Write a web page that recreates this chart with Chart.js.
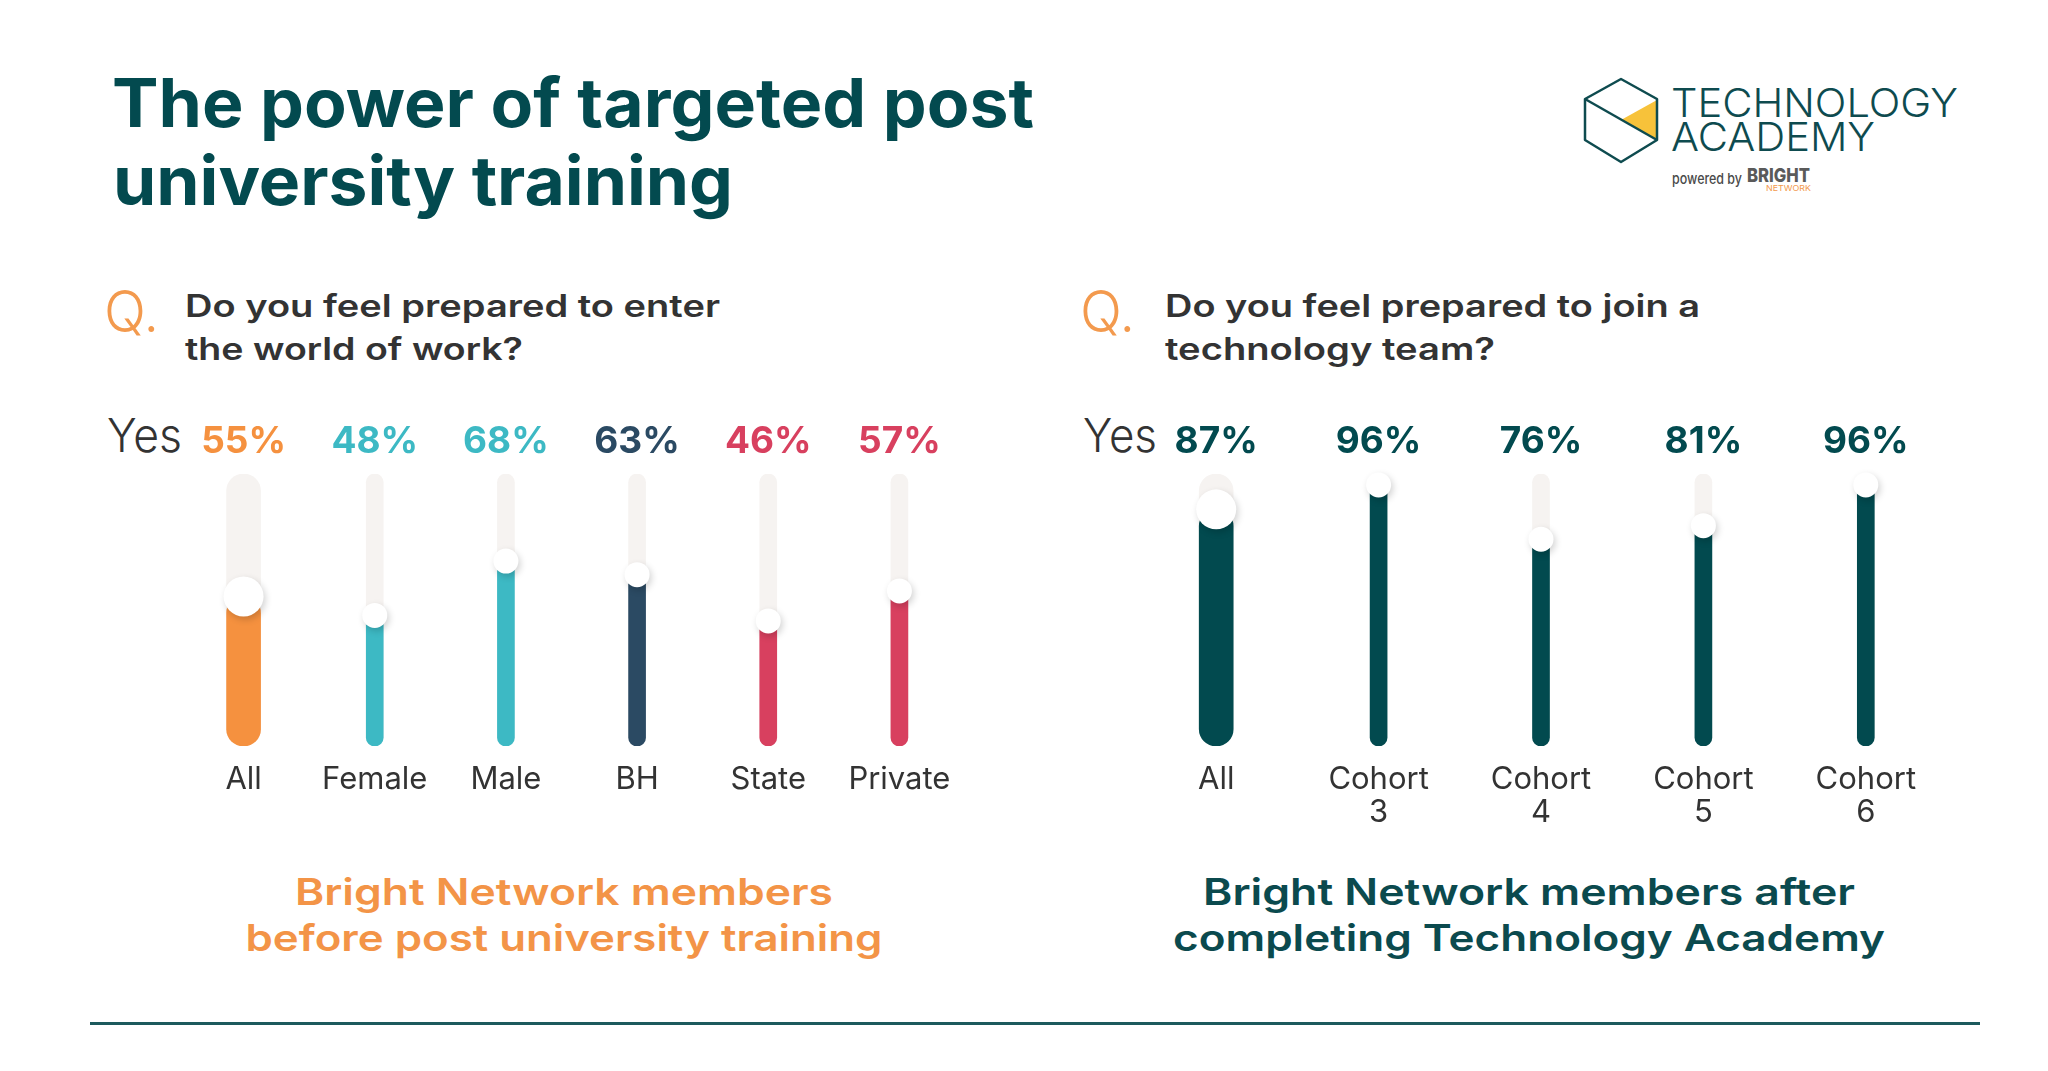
<!DOCTYPE html>
<html>
<head>
<meta charset="utf-8">
<title>The power of targeted post university training</title>
<script src="https://cdn.jsdelivr.net/npm/chart.js@4.4.1/dist/chart.umd.min.js"></script>
<style>
  html, body { margin: 0; padding: 0; background: #fff; }
  body { width: 2048px; height: 1071px; position: relative; overflow: hidden; font-family: Inter, "Noto Sans", sans-serif; }
  #art { position: absolute; left: 0; top: 0; }
  #art text { font-family: Inter, "Noto Sans", sans-serif; }
  .chart-box { position: absolute; }
</style>
</head>
<body>
<svg id="art" width="2048" height="1071" xmlns="http://www.w3.org/2000/svg">
  <!-- title -->
  <text x="112" y="127" font-size="67" font-weight="700" fill="#034A4F" textLength="922" lengthAdjust="spacingAndGlyphs">The power of targeted post</text>
  <text x="113" y="205" font-size="67" font-weight="700" fill="#034A4F" textLength="620" lengthAdjust="spacingAndGlyphs">university training</text>

  <!-- logo -->
  <polygon points="1621,120 1657,100 1657,140" fill="#F7C23A"/>
  <polygon points="1621,79 1657,99 1657,140 1621,162 1585,140 1585,99" fill="none" stroke="#0E4B4F" stroke-width="2.5" stroke-linejoin="round"/>
  <line x1="1585" y1="99" x2="1657" y2="140" stroke="#0E4B4F" stroke-width="2.5"/>
  <text x="1671" y="117" font-size="40" font-weight="300" fill="#0E4B4F" textLength="287" lengthAdjust="spacingAndGlyphs">TECHNOLOGY</text>
  <text x="1671" y="151" font-size="40" font-weight="300" fill="#0E4B4F" textLength="204" lengthAdjust="spacingAndGlyphs">ACADEMY</text>
  <text x="1672" y="184" font-size="15" font-weight="500" fill="#4A4A4A" textLength="70" lengthAdjust="spacingAndGlyphs">powered by</text>
  <text x="1747" y="182" font-size="19" font-weight="800" fill="#5A5A5A" textLength="63" lengthAdjust="spacingAndGlyphs">BRIGHT</text>
  <text x="1766" y="191" font-size="8" font-weight="400" fill="#F39A4E" textLength="45" lengthAdjust="spacingAndGlyphs">NETWORK</text>

  <!-- questions -->
  <text x="104" y="332" font-size="58" font-weight="300" fill="#F39A4E" textLength="55" lengthAdjust="spacingAndGlyphs">Q.</text>
  <text x="185" y="317" font-size="31" font-weight="600" fill="#333333" textLength="535" lengthAdjust="spacingAndGlyphs">Do you feel prepared to enter</text>
  <text x="185" y="360" font-size="31" font-weight="600" fill="#333333" textLength="338" lengthAdjust="spacingAndGlyphs">the world of work?</text>
  <text x="1080" y="332" font-size="58" font-weight="300" fill="#F39A4E" textLength="55" lengthAdjust="spacingAndGlyphs">Q.</text>
  <text x="1165" y="317" font-size="31" font-weight="600" fill="#333333" textLength="535" lengthAdjust="spacingAndGlyphs">Do you feel prepared to join a</text>
  <text x="1165" y="360" font-size="31" font-weight="600" fill="#333333" textLength="330" lengthAdjust="spacingAndGlyphs">technology team?</text>

  <!-- "Yes" row headers -->
  <text x="107" y="452" font-size="47" font-weight="300" fill="#333333" textLength="75" lengthAdjust="spacingAndGlyphs">Yes</text>
  <text x="1083" y="452" font-size="47" font-weight="300" fill="#333333" textLength="74" lengthAdjust="spacingAndGlyphs">Yes</text>

  <!-- group captions -->
  <text x="564" y="905" text-anchor="middle" font-size="37" font-weight="600" fill="#F39447" textLength="538" lengthAdjust="spacingAndGlyphs">Bright Network members</text>
  <text x="564" y="951" text-anchor="middle" font-size="37" font-weight="600" fill="#F39447" textLength="637" lengthAdjust="spacingAndGlyphs">before post university training</text>
  <text x="1529" y="905" text-anchor="middle" font-size="37" font-weight="600" fill="#0B4A4E" textLength="652" lengthAdjust="spacingAndGlyphs">Bright Network members after</text>
  <text x="1529" y="951" text-anchor="middle" font-size="37" font-weight="600" fill="#0B4A4E" textLength="712" lengthAdjust="spacingAndGlyphs">completing Technology Academy</text>

  <rect x="90" y="1022" width="1890" height="3" fill="#1D5A5D"/>
</svg>

<div class="chart-box" style="left:150px;top:380px;width:850px;height:480px"><canvas id="beforeChart"></canvas></div>
<div class="chart-box" style="left:1100px;top:380px;width:880px;height:480px"><canvas id="afterChart"></canvas></div>

<script>
// "Do you feel prepared to enter the world of work?" - before training
const beforeCategories = ['All', 'Female', 'Male', 'BH', 'State', 'Private'];
const beforeValues = [55, 48, 68, 63, 46, 57];
const beforeColors = ['#F5913F', '#3DB9C4', '#3DB9C4', '#2B4A63', '#D8405F', '#D8405F'];

// "Do you feel prepared to join a technology team?" - after Technology Academy
const afterCategories = [['All'], ['Cohort', '3'], ['Cohort', '4'], ['Cohort', '5'], ['Cohort', '6']];
const afterValues = [87, 96, 76, 81, 96];
const afterColors = ['#024A4F', '#024A4F', '#024A4F', '#024A4F', '#024A4F'];

const scaleMax = 100;
const trackColor = '#F6F3F1';
const fontFamily = 'Inter, "Noto Sans", sans-serif';

// soft drop shadow under the white slider knobs
const thumbShadow = {
  id: 'thumbShadow',
  beforeDatasetDraw(chart, args) {
    if (chart.data.datasets[args.index].type === 'line') {
      const ctx = chart.ctx;
      ctx.save();
      ctx.shadowColor = 'rgba(0,0,0,0.18)';
      ctx.shadowBlur = 7;
      ctx.shadowOffsetX = 2;
      ctx.shadowOffsetY = 3;
    }
  },
  afterDatasetDraw(chart, args) {
    if (chart.data.datasets[args.index].type === 'line') {
      chart.ctx.restore();
    }
  }
};

function sliderChart(canvasId, categories, values, colors, padding) {
  const bigBar = { barThickness: 34, borderRadius: 17, borderSkipped: false, grouped: false };
  const smallBar = { barThickness: 17, borderRadius: 8.5, borderSkipped: false, grouped: false };

  return new Chart(document.getElementById(canvasId), {
    type: 'bar',
    data: {
      labels: categories,
      datasets: [
        {
          type: 'line',
          data: values,
          showLine: false,
          pointRadius: (c) => (c.dataIndex === 0 ? 20 : 12.5),
          pointHoverRadius: (c) => (c.dataIndex === 0 ? 20 : 12.5),
          pointBackgroundColor: '#ffffff',
          pointBorderWidth: 0,
          clip: false,
          order: 0
        },
        Object.assign({
          data: values.map((v, i) => (i === 0 ? v : null)),
          backgroundColor: colors[0],
          order: 1
        }, bigBar),
        Object.assign({
          data: values.map((v, i) => (i === 0 ? null : v)),
          backgroundColor: colors,
          order: 1
        }, smallBar),
        Object.assign({
          data: values.map((v, i) => (i === 0 ? scaleMax : null)),
          backgroundColor: trackColor,
          order: 2
        }, bigBar),
        Object.assign({
          data: values.map((v, i) => (i === 0 ? null : scaleMax)),
          backgroundColor: trackColor,
          order: 2
        }, smallBar)
      ]
    },
    options: {
      responsive: true,
      maintainAspectRatio: false,
      animation: false,
      events: [],
      layout: { padding: padding },
      scales: {
        y: { display: false, min: 0, max: scaleMax },
        x: {
          position: 'bottom',
          grid: { display: false, drawTicks: false },
          border: { display: false },
          ticks: {
            color: '#333333',
            autoSkip: false,
            maxRotation: 0,
            padding: 17,
            font: { family: fontFamily, size: 31, weight: '400', lineHeight: 1.07 }
          },
          afterFit: (scale) => { scale.height = 100; }
        },
        xTop: {
          type: 'category',
          position: 'top',
          offset: true,
          grid: { display: false, drawTicks: false },
          border: { display: false },
          ticks: {
            autoSkip: false,
            maxRotation: 0,
            padding: 14,
            color: (c) => colors[c.index],
            font: { family: fontFamily, size: 37, weight: '700', lineHeight: 1 },
            callback: (v, i) => values[i] + '%'
          },
          afterFit: (scale) => { scale.height = 60; }
        }
      },
      plugins: {
        legend: { display: false },
        tooltip: { enabled: false }
      }
    },
    plugins: [thumbShadow]
  });
}

sliderChart('beforeChart', beforeCategories, beforeValues, beforeColors,
  { left: 28, right: 35, top: 34, bottom: 14 });
sliderChart('afterChart', afterCategories, afterValues, afterColors,
  { left: 35, right: 33, top: 34, bottom: 14 });
</script>
</body>
</html>
